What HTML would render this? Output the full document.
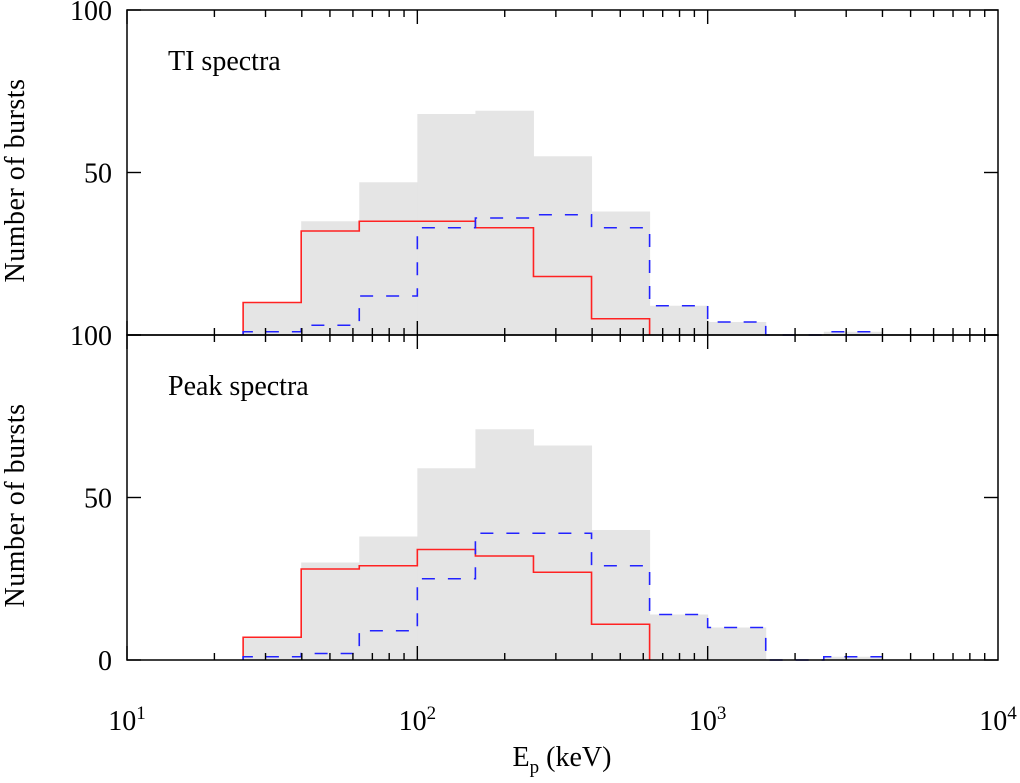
<!DOCTYPE html>
<html><head><meta charset="utf-8"><style>
body{margin:0;background:#fff}
svg text{font-family:"Liberation Serif",serif;fill:#000}
</style></head><body>
<svg id="c" width="1020" height="778" xmlns="http://www.w3.org/2000/svg"></svg>
<script>
const binEdgesLog=[1.4,1.6,1.8,2.0,2.2,2.4,2.6,2.8,3.0,3.2,3.4,3.6];
const tiAll=[10,35,47,68,69,55,38,9,4,0,1];
const tiRed=[10,32,35,35,33,18,5,0,0,0,0];
const tiBlue=[1,3,12,33,36,37,33,9,4,0,1];
const pkAll=[7,30,38,59,71,66,40,14,10,0,1];
const pkRed=[7,28,29,34,32,27,11,0,0,0,0];
const pkBlue=[1,2,9,25,39,39,29,14,10,0,1];
const yTicks=[0,50,100];
const xDecades=[1,2,3,4];
const panels=[{name:'ti',label:'TI spectra',all:tiAll,red:tiRed,blue:tiBlue,top:10,bot:335},
{name:'peak',label:'Peak spectra',all:pkAll,red:pkRed,blue:pkBlue,top:335,bot:660}];
const X0=127,X1=998;
const sx=l=>X0+(l-1)*(X1-X0)/3;
const svg=document.getElementById('c');
const NS='http://www.w3.org/2000/svg';
function mk(t,a,p){const e=document.createElementNS(NS,t);for(const k in a)e.setAttribute(k,a[k]);(p||svg).appendChild(e);return e;}
function stepPath(vals,sy){let d='';for(let i=0;i<vals.length;i++){const x0=sx(binEdgesLog[i]),x1=sx(binEdgesLog[i+1]),y=sy(vals[i]);d+=(i==0?'M'+x0+','+sy(0)+'L':'L')+x0+','+y+'L'+x1+','+y;}return d;}
panels.forEach((p,pi)=>{
 const sy=v=>p.bot-v*(p.bot-p.top)/100;
 const g=mk('g',{});
 
 
 p.all.forEach((v,i)=>{if(v<=0)return;const r=mk('rect',{x:sx(binEdgesLog[i]),y:sy(v),width:sx(binEdgesLog[i+1])-sx(binEdgesLog[i])+0.5,height:sy(0)-sy(v),fill:'#e5e5e5'},g);
  
  });
 const rl=mk('path',{d:stepPath(p.red.slice(0,7),sy)+'L'+sx(binEdgesLog[7])+','+sy(0),fill:'none',stroke:'#f22',"stroke-width":1.6},g);
 
 
 const bl=mk('path',{d:stepPath(p.blue,sy),fill:'none',stroke:'#22f',"stroke-width":1.6,"stroke-dasharray":"13,13"},g);
 
 
 const fr=mk('rect',{x:X0,y:p.top,width:X1-X0,height:p.bot-p.top,fill:'none',stroke:'#000',"stroke-width":1.5},g);
 
 
 for(let d=1;d<4;d++)for(let m=1;m<10;m++){const x=sx(d+Math.log10(m));const L=m==1?14:7;
  mk('line',{x1:x,x2:x,y1:p.bot,y2:p.bot-L,stroke:'#000',"stroke-width":1.4},g);
  mk('line',{x1:x,x2:x,y1:p.top,y2:p.top+L,stroke:'#000',"stroke-width":1.4},g);}
 yTicks.forEach(v=>{const y=sy(v);
  mk('line',{x1:X0,x2:X0+14,y1:y,y2:y,stroke:'#000',"stroke-width":1.4},g);
  mk('line',{x1:X1,x2:X1-14,y1:y,y2:y,stroke:'#000',"stroke-width":1.4},g);
  if(pi==0&&v==0)return;
  const t=mk('text',{x:X0-15,y:y+10,"text-anchor":"end","font-size":28},g);t.textContent=v;
  
  });
 const lt=mk('text',{x:168,y:p.top+60,"font-size":28},g);lt.textContent=p.label;
 
 
 const yl=mk('text',{x:0,y:0,"font-size":28,"letter-spacing":"0.5","text-anchor":"middle",transform:`translate(24,${(p.top+p.bot)/2+8}) rotate(-90)`},g);yl.textContent='Number of bursts';
 
 
});
xDecades.forEach(d=>{const t=mk('text',{x:sx(d),y:730,"text-anchor":"middle","font-size":28});
 t.innerHTML='10<tspan dy="-11" font-size="19">'+d+'</tspan>';
 
 });
const xt=mk('text',{x:562,y:766,"text-anchor":"middle","font-size":28});
xt.innerHTML='E<tspan dy="7" font-size="19">p</tspan><tspan dy="-7"> (keV)</tspan>';


</script>
</body></html>
